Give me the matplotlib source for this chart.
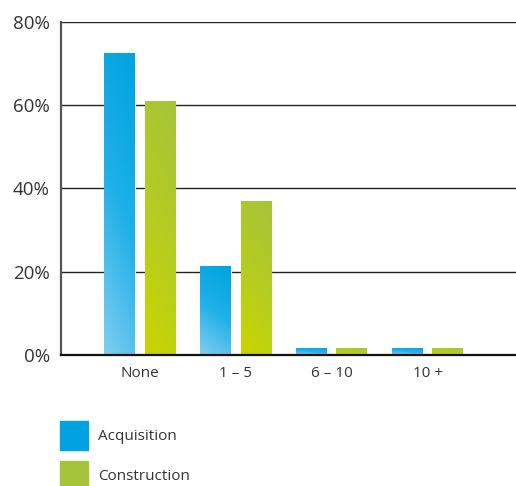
import matplotlib
matplotlib.use("Agg")
import matplotlib.pyplot as plt
import numpy as np
from matplotlib.colors import LinearSegmentedColormap
from matplotlib.patches import Rectangle

categories = ["None", "1 – 5", "6 – 10", "10 +"]
acquisition = [72.5, 21.4, 1.7, 1.7]
construction = [61.0, 37.0, 1.6, 1.6]
series_names = ["Acquisition", "Construction"]
yticks = [0, 20, 40, 60, 80]
ytick_labels = ["0%", "20%", "40%", "60%", "80%"]

plt.rcParams['font.family'] = ['Open Sans', 'DejaVu Sans']

fig = plt.figure(figsize=(5.16, 4.86), dpi=100)
ax = fig.add_axes([61/516, 1-355/486, 1-61/516, (355-22)/486])

x = np.arange(len(categories))
w = 0.32
off = 0.21

cmaps = [
    LinearSegmentedColormap.from_list("acq", ["#80cdf2", "#1eb0e8", "#00a3e0"]),
    LinearSegmentedColormap.from_list("con", ["#cad500", "#b5cc22", "#a6c43a"]),
]
solid = ["#00a3e0", "#a6c43a"]

for i, (vals, cm) in enumerate(zip([acquisition, construction], cmaps)):
    xs = x + (-off if i == 0 else off)
    bars = ax.bar(xs, vals, width=w, color=solid[i], edgecolor="white", linewidth=0.8, zorder=3)
    for b in bars:
        bx, by = b.get_x(), b.get_y()
        bw, bh = b.get_width(), b.get_height()
        gy, gx = np.mgrid[0:1:100j, 0:1:20j]
        grad = 0.8 * gy + 0.2 * gx
        im = ax.imshow(grad, cmap=cm, origin="lower", aspect="auto",
                       extent=[bx, bx + bw, by, by + max(bh, 1e-6)], zorder=4,
                       vmin=0, vmax=1)
        im.set_clip_path(b)

ax.set_xlim(-0.82, 3.92)
ax.set_ylim(0, 80)
ax.set_yticks(yticks)
ax.set_yticklabels(ytick_labels, fontsize=13.5, color="#333333")
ax.set_xticks(x)
ax.set_xticklabels(categories, fontsize=11, color="#333333")
ax.tick_params(axis="y", length=0, pad=8)
ax.tick_params(axis="x", length=0, pad=8)
ax.yaxis.grid(True, color="#222222", linewidth=1.0, zorder=1)
ax.set_axisbelow(True)
for s in ["top", "right"]:
    ax.spines[s].set_visible(False)
ax.spines["left"].set_color("#555555")
ax.spines["left"].set_linewidth(1.6)
ax.spines["bottom"].set_color("#111111")
ax.spines["bottom"].set_linewidth(1.6)
ax.spines["bottom"].set_zorder(5)

# Legend
leg_y = [421, 461]
for name, col, yy in zip(series_names, solid, leg_y):
    fig.patches.append(Rectangle((60/516, 1-(yy+29)/486), 28/516, 29/486,
                                 transform=fig.transFigure, color=col))
    fig.text(98/516, 1-(yy+15)/486, name, fontsize=11, color="#333333", va="center")

fig.savefig("out.png", dpi=100)
